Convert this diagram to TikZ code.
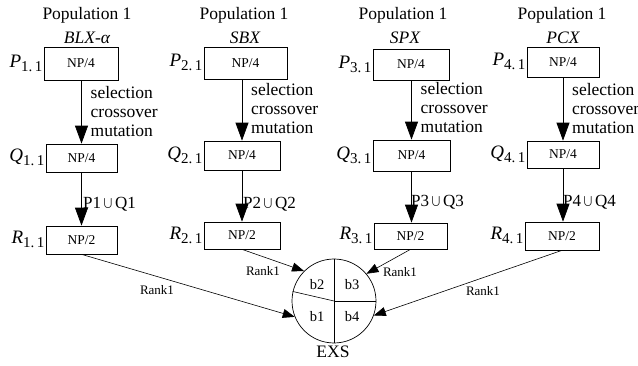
\documentclass[tikz,border=0pt]{standalone}
\usepackage{fontspec}
\setmainfont{Liberation Serif}
\usetikzlibrary{arrows.meta,calc}
\newcommand\sublbl[2]{{\fontsize{19}{19}\selectfont\itshape #1}\raisebox{-4pt}{\fontsize{15}{15}\selectfont #2.\,1}}
\begin{document}
\begin{tikzpicture}[x=1pt,y=-1pt,
  box/.style={draw,line width=0.7pt,inner sep=0pt,font=\fontsize{13.5}{14}\selectfont},
  bigarr/.style={-{Triangle[length=18pt,width=13pt]},line width=0.75pt},
  rankarr/.style={-{Triangle[length=12pt,width=9pt]},line width=0.6pt},
  ttl/.style={font=\fontsize{17.5}{18}\selectfont,inner sep=0pt},
  ops/.style={font=\fontsize{17.5}{19}\selectfont,align=left,inner sep=0pt,anchor=west},
  uni/.style={font=\fontsize{17}{18}\selectfont,inner sep=0pt,anchor=west},
  lbl/.style={anchor=base east,inner sep=0pt,xshift=-1pt},
  rk/.style={font=\fontsize{13}{14}\selectfont,inner sep=0pt},
  bl/.style={font=\fontsize{14.5}{15}\selectfont,inner sep=0pt}
]
\useasboundingbox (0,0) rectangle (638,366);

% titles
\node[ttl] (t1) at (87,15) {Population 1};
\node[ttl] (t2) at (244,15) {Population 1};
\node[ttl] (t3) at (403,15) {Population 1};
\node[ttl] (t4) at (562,15) {Population 1};
\node[ttl,font=\fontsize{17.5}{18}\selectfont\itshape] (n1) at (87,38) {BLX-α};
\node[ttl,font=\fontsize{17.5}{18}\selectfont\itshape] (n2) at (245,38) {SBX};
\node[ttl,font=\fontsize{17.5}{18}\selectfont\itshape] (n3) at (405,38) {SPX};
\node[ttl,font=\fontsize{17.5}{18}\selectfont\itshape] (n4) at (563,38) {PCX};

% boxes
\node[box,minimum width=74pt,minimum height=33pt] (P1) at (81,63.5) {NP/4};
\node[box,minimum width=71pt,minimum height=28pt] (Q1) at (81.5,158) {NP/4};
\node[box,minimum width=71pt,minimum height=28pt] (R1) at (81.5,240) {NP/2};

\node[box,minimum width=83pt,minimum height=32pt] (P2) at (245.5,63) {NP/4};
\node[box,minimum width=76pt,minimum height=29pt] (Q2) at (242,155.5) {NP/4};
\node[box,minimum width=76pt,minimum height=27pt] (R2) at (242,235.5) {NP/2};

\node[box,minimum width=76pt,minimum height=31pt] (P3) at (411,64.5) {NP/4};
\node[box,minimum width=77pt,minimum height=31pt] (Q3) at (411.5,155.5) {NP/4};
\node[box,minimum width=73pt,minimum height=26pt] (R3) at (410.5,236) {NP/2};

\node[box,minimum width=72pt,minimum height=30pt] (P4) at (563,62) {NP/4};
\node[box,minimum width=72pt,minimum height=27pt] (Q4) at (563,154.5) {NP/4};
\node[box,minimum width=74pt,minimum height=28pt] (R4) at (562,236) {NP/2};

% side labels, arrows, operations
\foreach \i in {1,2,3,4}{
  \node[lbl] (lp\i) at ([yshift=-4pt]P\i.west) {\sublbl{P}{\i}};
  \node[lbl] (lq\i) at ([yshift=-4pt]Q\i.west) {\sublbl{Q}{\i}};
  \node[lbl] (lr\i) at ([yshift=-4pt]R\i.west) {\sublbl{R}{\i}};
  \draw[bigarr] (Q\i.north |- P\i.south) -- (Q\i.north);
  \draw[bigarr] (Q\i.south) -- (Q\i.south |- R\i.north);
  \node[ops] (op\i) at ($(Q\i.north)+(9,-32)$) {selection\\crossover\\mutation};
}
\node[uni] (u1) at (83,204) {P1\,$\bigcup$\,Q1};
\node[uni] (u2) at (243,204) {P2\,$\bigcup$\,Q2};
\node[uni] (u3) at (411,202) {P3\,$\bigcup$\,Q3};
\node[uni] (u4) at (563,202) {P4\,$\bigcup$\,Q4};

% EXS circle
\node[draw,circle,minimum size=84pt,inner sep=0pt,line width=0.7pt] (exs) at (334,301) {};
\draw[line width=0.6pt] (exs.north) -- (exs.south);
\draw[line width=0.6pt] (exs.center) -- (exs.east);
\draw[line width=0.6pt] (exs.center) -- (exs.167);
\node[bl] (b2) at (317,285) {b2};
\node[bl] (b3) at (352,285) {b3};
\node[bl] (b1) at (317,317) {b1};
\node[bl] (b4) at (352,317) {b4};
\node[ttl] (exsl) at (333,352) {EXS};

% rank arrows
\draw[rankarr] (R1.south) -- (exs.202);
\draw[rankarr] (R2.south) -- (exs.135);
\draw[rankarr] (R3.south) -- (exs.40);
\draw[rankarr] (R4.south) -- (exs.-20);
\node[rk] (k1) at (157,290) {Rank1};
\node[rk] (k2) at (263,271) {Rank1};
\node[rk] (k3) at (400,272) {Rank1};
\node[rk] (k4) at (483,291) {Rank1};
\end{tikzpicture}
\end{document}
